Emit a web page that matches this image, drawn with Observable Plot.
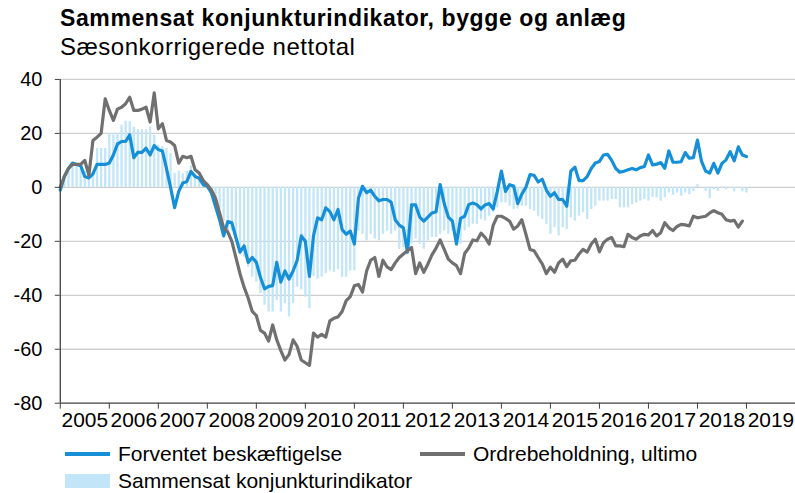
<!DOCTYPE html>
<html><head><meta charset="utf-8">
<script src="https://cdn.jsdelivr.net/npm/d3@7"></script>
<script src="https://cdn.jsdelivr.net/npm/@observablehq/plot@0.6"></script>
<style>
body{margin:0;width:795px;height:493px;overflow:hidden;background:#fff;font-family:"Liberation Sans",Arial,sans-serif;position:relative;color:#000}
#title{position:absolute;left:60px;top:5px;font-weight:bold;font-size:23px;letter-spacing:0.6px;white-space:nowrap}
#subtitle{position:absolute;left:60px;top:33px;font-size:24px;letter-spacing:0.5px;white-space:nowrap}
#chart{position:absolute;left:0;top:62px}
.lg{position:absolute;font-size:21px;white-space:nowrap;display:flex;align-items:center}
.sw{display:inline-block;width:45px;margin-right:8px}
</style></head><body>
<div id="title">Sammensat konjunkturindikator, bygge og anlæg</div>
<div id="subtitle">Sæsonkorrigerede nettotal</div>
<div id="chart"></div>
<div class="lg" style="left:65px;top:442px"><span class="sw" style="height:4px;background:#1590d8"></span>Forventet beskæftigelse</div>
<div class="lg" style="left:420px;top:442px"><span class="sw" style="height:4px;background:#707070"></span>Ordrebeholdning, ultimo</div>
<div class="lg" style="left:65px;top:469px"><span class="sw" style="height:14px;background:#c2e5f8"></span>Sammensat konjunkturindikator</div>
<script>
const startYear = 2005;
const forventet = [-1,4,7,9,8.5,8,4,3.5,5,8.5,8.5,8.5,9,12,16,17,17,19.5,11,13,13,14.5,12,15.5,14,13.5,7,0,-7.5,-1.5,1.6,2.2,5.9,4,3.4,1,0.4,-2,-7,-12,-18,-12.7,-13.1,-18.6,-24,-21.7,-27.8,-26,-27.8,-33.3,-37.6,-36.7,-36.4,-27.8,-35.1,-31,-34,-31,-27,-18,-20,-33,-18,-11.3,-12,-7.6,-9,-12,-8.2,-15.6,-17.4,-16.2,-21,-4,0.4,-2,-1,-3.3,-5,-4.5,-4.5,-5.5,-12,-14,-15,-24,-6.5,-6.5,-11,-12.5,-11,-9.5,-9,1,-6,-11,-12.5,-21,-11.5,-10.7,-6.4,-5.8,-6.4,-8,-6.5,-6,-8,-1.5,6,-1.5,1,0.5,-6,-2.5,0,4.7,4.5,2,3,-1,-3.3,-2,-4.5,-4.5,-7,6,7.5,2.5,2.5,4,7,9,9.6,12,12.2,10,7,5.6,6,6.5,7,6.5,7.3,7.7,12,8.3,8.6,9.2,7.1,13.5,9.3,9.3,9.5,12.9,10.8,11,17.5,9.6,6,5.3,8.9,5.3,8.9,10.2,13.2,9.8,15,12,11.4];
const ordre = [0,4,7,8.5,8.5,8.5,10,4.5,17.4,18.6,20,32.8,28.5,24.8,29,29.7,31,33.4,28.5,28.5,29,29.7,24.2,35,21.7,23.6,17.4,16.8,15.5,9,11.5,11,11.5,6.5,5.3,2.5,1,-1,-4,-9.5,-15,-16.5,-20,-26,-32,-37,-41,-46,-47.5,-53,-54,-57,-51,-56.5,-60.5,-64,-62,-56.5,-59,-64,-65,-66,-54,-55.5,-54.5,-55.5,-49.5,-48.5,-48,-46,-42,-40.5,-36.5,-36,-38.8,-31,-27,-26,-33,-27,-29.5,-30.5,-28,-26,-24.7,-23.5,-22.3,-32,-28,-31.5,-28.4,-25,-22.5,-19.5,-23,-26.6,-28,-29,-32,-24.5,-22.5,-19.5,-19.8,-17,-18.5,-21,-14,-10.7,-10.7,-11.5,-12.5,-15.5,-14.3,-12,-17.4,-23,-23.5,-26,-28.4,-32,-29.6,-31.5,-28,-26.6,-29.4,-27.2,-27,-24.7,-23,-24,-21,-19.2,-23.9,-20.5,-19.2,-18.6,-21.7,-21.7,-22,-17.4,-18.6,-19.2,-18,-17.4,-17.6,-16,-18,-16.8,-13.1,-15,-16,-14.5,-13.7,-13.9,-14.3,-10.7,-11.3,-11,-10.7,-9.5,-8.6,-9.4,-10,-12,-12.5,-12.2,-14.7,-12.5];
const sammensat = [0,3,6,8,8,8,6,5,6,14.4,14.4,14.4,20,20,20,23,24.5,24.4,22.3,21.3,21.3,21.3,22.3,19.3,15.6,15.2,14.4,12.5,5.2,6,5,6,8,5,4,3,1,-1,-4,-8.2,-12.5,-16.2,-16.2,-19.8,-24.7,-25.9,-29.6,-33.3,-35.1,-39.4,-43.7,-46.2,-46.2,-41.9,-46.2,-43.1,-48,-43,-37,-38,-40.7,-45,-33,-34,-33.3,-32,-31,-31.5,-30.5,-33.3,-33.3,-31,-31,-16.2,-17.4,-19.8,-17.4,-19.2,-19.8,-17.4,-16.2,-17.4,-16.2,-23,-22.3,-18.6,-21,-19.2,-21,-22.9,-19.8,-18.6,-18.6,-17.4,-16.2,-17.4,-16.2,-19.8,-21.1,-16.2,-14.9,-13.7,-13.7,-11.9,-12.5,-10.7,-9.4,-7.6,-5.8,-5.8,-7,-8.2,-8,-7,-7,-8.2,-8.8,-10.7,-11.9,-13.7,-17.4,-14.9,-18,-15,-15.6,-11.3,-12.5,-10.7,-9.4,-11.9,-8.2,-7,-5.1,-5.1,-5.1,-4.5,-4.5,-7.6,-7.6,-7.6,-6.4,-5.8,-5.1,-4.5,-5.1,-3.7,-3.9,-5.1,-3.9,-2.1,-2.9,-2.1,-3.3,-2.1,-2.7,-1.5,1,-0.2,-1.5,-4.2,-0.9,-1.5,-0.3,-0.9,-0.3,-1.7,-0.3,-1.7,-2.1];
const yTicks = [40,20,0,-20,-40,-60,-80];
const yearTicks = d3.range(2005, 2020);
const yearLabels = yearTicks.map(String);

const t = i => startYear + i / 12;
const fData = forventet.map((v, i) => ({t: t(i), v}));
const oData = ordre.map((v, i) => ({t: t(i), v}));
const sData = sammensat.map((v, i) => ({t: t(i), v}));

const chart = Plot.plot({
  width: 798, height: 380,
  marginLeft: 60, marginRight: 0, marginTop: 17, marginBottom: 38,
  style: {fontFamily: "'Liberation Sans', Arial, sans-serif", fontSize: "20px", color: "#000", background: "#fff", overflow: "visible"},
  x: {type: "linear", domain: [2005, 2020], label: null},
  y: {domain: [-80, 40], label: null},
  marks: [
    Plot.ruleY(yTicks.filter(d => d > -80), {stroke: "#cfcfcf", strokeWidth: 1.3}),
    Plot.ruleX(sData, {x: "t", y1: 0, y2: "v", stroke: "#c2e5f8", strokeWidth: 2.3}),
    Plot.line(fData, {x: "t", y: "v", stroke: "#1590d8", strokeWidth: 3.2, strokeLinejoin: "round"}),
    Plot.line(oData, {x: "t", y: "v", stroke: "#707070", strokeWidth: 3.2, strokeLinejoin: "round"}),
    Plot.ruleX([2005], {stroke: "#404040", strokeWidth: 1.3}),
    Plot.ruleY([-80], {stroke: "#404040", strokeWidth: 1.3}),
    Plot.axisY(yTicks, {label: null, tickSize: 5, tickPadding: 13, tickFormat: d => String(d), stroke: "#404040", fill: "#000"}),
    Plot.axisX(yearTicks, {label: null, tickSize: 6, tickFormat: () => "", stroke: "#404040"}),
    Plot.axisX(yearTicks.map(d => d + 0.5), {label: null, tickSize: 0, tickPadding: 9, fontSize: 21, tickFormat: (d, i) => yearLabels[i], fill: "#000"})
  ]
});
document.getElementById("chart").appendChild(chart);
</script>
</body></html>
